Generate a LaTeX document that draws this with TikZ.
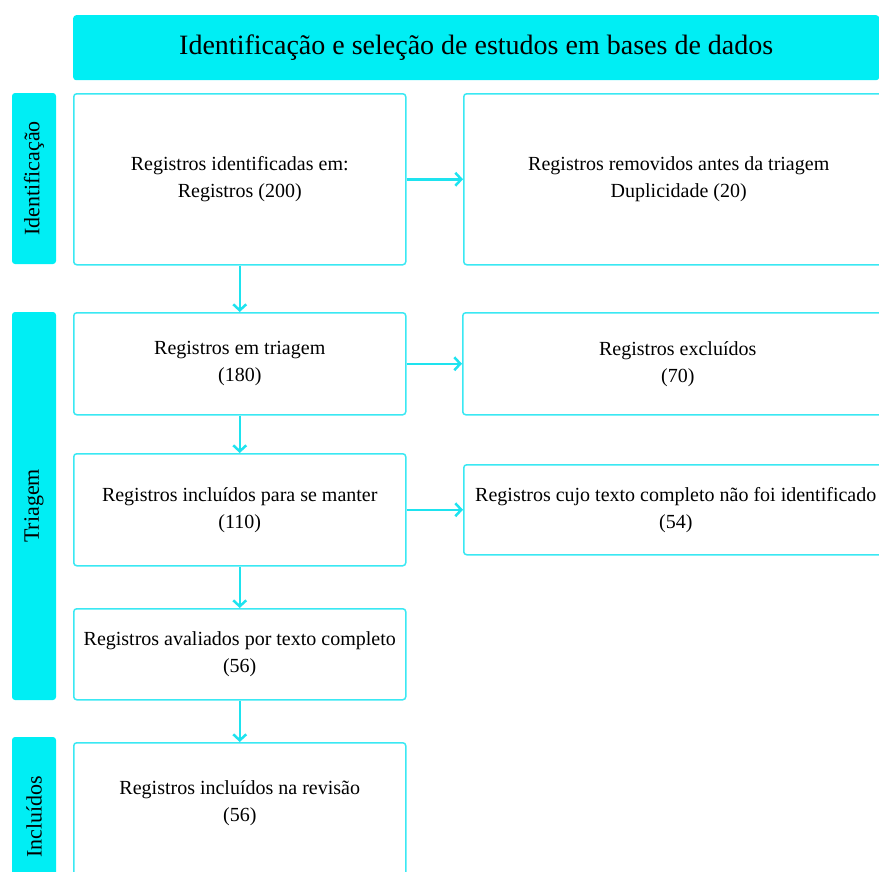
\documentclass[tikz,border=0pt]{standalone}
\usepackage{fontspec}
\setmainfont{Liberation Serif}
\usepackage{tikz}
\usetikzlibrary{positioning,arrows.meta}
\definecolor{FlowCyan}{HTML}{00EEF4}
\definecolor{FlowLine}{HTML}{3AE8F3}
\definecolor{FlowArrow}{HTML}{1EE3EF}

\begin{document}
\begin{tikzpicture}[x=1pt, y=-1pt,
                stage/.style={fill=FlowCyan, rounded corners=3pt, inner sep=0pt, rotate=90, minimum height=44pt, font=\fontsize{22}{26}\selectfont},
                entry/.style={draw=FlowLine, line width=1.5pt, fill=white, rounded corners=3pt, align=center, inner sep=0pt, font=\fontsize{20}{27}\selectfont},
                flow/.style={draw=FlowArrow, line width=2.5pt, -{Straight Barb[length=6pt, width=13pt]}}]
                \clip (0,0) rectangle (879,871);
                \node[fill=FlowCyan, rounded corners=3pt, anchor=north west, minimum width=806pt, minimum height=65pt, font=\fontsize{28}{32}\selectfont] (title) at (73,15) {Identificação e seleção de estudos em bases de dados};

                \node[entry, anchor=north west, minimum width=332pt, minimum height=171pt] (found) at (73,93) {Registros identificadas em:\\Registros (200)};
                \node[entry, below=46.5pt of found, minimum width=332pt, minimum height=102pt] (screened) {Registros em triagem\\(180)};
                \node[entry, below=37.5pt of screened, minimum width=332pt, minimum height=112pt] (kept) {Registros incluídos para se manter\\(110)};
                \node[entry, below=41.5pt of kept, minimum width=332pt, minimum height=91pt] (assessed) {Registros avaliados por texto completo\\(56)};
                \node[entry, below=41.5pt of assessed, minimum width=332pt, minimum height=160pt] (included) {};
                \node[align=center, inner sep=0pt, font=\fontsize{20}{27}\selectfont] (includedtext) at ([yshift=-61pt]included.north) {Registros incluídos na revisão\\(56)};

                \node[entry, right=56.5pt of found, minimum width=430pt, minimum height=171pt] (removed) {Registros removidos antes da triagem\\Duplicidade (20)};
                \node[entry, right=55.5pt of screened, minimum width=430pt, minimum height=102pt] (excluded) {Registros excluídos\\(70)};
                \node[entry, right=56.5pt of kept, minimum width=424pt, minimum height=90pt] (missing) {Registros cujo texto completo não foi identificado\\(54)};

                \node[stage, minimum width=171pt] (stageid) at (34,178.5) {Identificação};
                \node[stage, minimum width=388pt] (stagescreen) at (34,506) {Triagem};
                \node[stage, minimum width=160pt] (stageinc) at (34,817) {Incluídos};

                \draw[flow] (found) -- (screened);
                \draw[flow] (screened) -- (kept);
                \draw[flow] (kept) -- (assessed);
                \draw[flow] (assessed) -- (included);
                \draw[flow] (found) -- (removed);
                \draw[flow] (screened) -- (excluded);
                \draw[flow] (kept) -- (missing);
            \end{tikzpicture}
\end{document}
